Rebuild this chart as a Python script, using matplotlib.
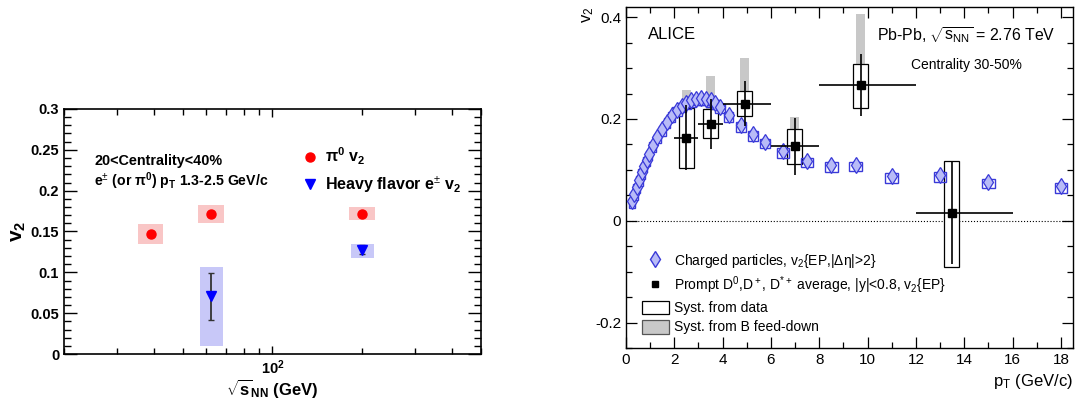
import numpy as np
import matplotlib
matplotlib.use('Agg')
import matplotlib.pyplot as plt
from matplotlib.patches import Rectangle, Patch
from matplotlib.lines import Line2D
from matplotlib.ticker import LogLocator, FuncFormatter, MultipleLocator, NullFormatter

plt.rcParams['font.family'] = ['Liberation Sans', 'DejaVu Sans']
plt.rcParams['mathtext.fontset'] = 'custom'
plt.rcParams['mathtext.rm'] = 'Liberation Sans'
plt.rcParams['mathtext.it'] = 'Liberation Sans:italic'
plt.rcParams['mathtext.bf'] = 'Liberation Sans:bold'

# ---- left panel: v2 vs sqrt(sNN) ----
pi0_energy = [39.0, 62.4, 200.0]
pi0_v2 = [0.147, 0.171, 0.171]
pi0_sys_lo = [0.135, 0.160, 0.1635]
pi0_sys_hi = [0.159, 0.1826, 0.180]

hf_energy = [62.4, 200.0]
hf_v2 = [0.0705, 0.1276]
hf_stat = [0.0285, 0.0055]
hf_sys_lo = [0.0102, 0.118]
hf_sys_hi = [0.107, 0.135]

# ---- right panel: v2 vs pT ----
ch_pt = [0.25, 0.35, 0.45, 0.55, 0.65, 0.75, 0.85, 0.95, 1.1, 1.3, 1.5, 1.7, 1.9,
         2.1, 2.3, 2.5, 2.7, 2.9, 3.1, 3.3, 3.5, 3.7, 3.9, 4.25, 4.75, 5.25, 5.75,
         6.5, 7.5, 8.5, 9.5, 11.0, 13.0, 15.0, 18.0]
ch_v2 = [0.039, 0.053, 0.067, 0.081, 0.095, 0.108, 0.120, 0.132, 0.148, 0.165, 0.180,
         0.195, 0.207, 0.218, 0.226, 0.232, 0.237, 0.240, 0.241, 0.240, 0.237, 0.232,
         0.224, 0.207, 0.188, 0.170, 0.155, 0.137, 0.118, 0.109, 0.110, 0.0875, 0.089,
         0.0765, 0.068]
ch_sys_up = 0.006
ch_sys_dn = 0.013

d_pt = [2.5, 3.5, 4.92, 6.99, 9.72, 13.49]
d_pt_lo = [2.0, 3.0, 4.0, 6.0, 8.0, 12.0]
d_pt_hi = [3.0, 4.0, 6.0, 8.0, 12.0, 16.0]
d_v2 = [0.163, 0.190, 0.230, 0.146, 0.266, 0.016]
d_stat = [0.064, 0.049, 0.044, 0.056, 0.061, 0.100]
d_sys_lo = [0.103, 0.162, 0.205, 0.1115, 0.222, -0.090]
d_sys_hi = [0.221, 0.219, 0.254, 0.180, 0.3075, 0.118]
d_bfd_hi = [0.257, 0.2846, 0.319, 0.203, 0.407, 0.028]

fig = plt.figure(figsize=(10.8, 4.0), dpi=100)
ax1 = fig.add_axes([0.0593, 0.115, 0.386, 0.6125])
ax2 = fig.add_axes([0.5796, 0.13, 0.4139, 0.8525])

# left
for e, lo, hi in zip(pi0_energy, pi0_sys_lo, pi0_sys_hi):
    ax1.add_patch(Rectangle((e / 1.105, lo), e * 1.105 - e / 1.105, hi - lo,
                            facecolor='#f9c6c6', edgecolor='none', zorder=1))
for e, lo, hi in zip(hf_energy, hf_sys_lo, hf_sys_hi):
    ax1.add_patch(Rectangle((e / 1.095, lo), e * 1.095 - e / 1.095, hi - lo,
                            facecolor='#c8c8f8', edgecolor='none', zorder=1))
ax1.errorbar(hf_energy, hf_v2, yerr=hf_stat, fmt='none', ecolor='#333333',
             elinewidth=1.3, capsize=2, capthick=1.0, zorder=2)
ax1.plot(pi0_energy, pi0_v2, 'o', color='red', ms=6.5, zorder=3, label=r'$\mathbf{\pi^0\ v_2}$')
ax1.plot(hf_energy, hf_v2, 'v', color='blue', ms=6.5, zorder=3,
         label=r'Heavy flavor e$^{\pm}$ v$_{\mathbf{2}}$')

ax1.set_xscale('log')
ax1.set_xlim(20, 500)
ax1.set_ylim(0, 0.3)
ax1.xaxis.set_major_locator(LogLocator(base=10, numticks=5))
ax1.xaxis.set_minor_locator(LogLocator(base=10, subs=np.arange(2, 10), numticks=20))
ax1.xaxis.set_major_formatter(FuncFormatter(lambda v, p: r'$\mathbf{10^{2}}$' if abs(v - 100) < 1 else ''))
ax1.xaxis.set_minor_formatter(NullFormatter())
ax1.yaxis.set_major_locator(MultipleLocator(0.05))
ax1.yaxis.set_minor_locator(MultipleLocator(0.01))
ax1.yaxis.set_major_formatter(FuncFormatter(lambda v, p: f'{v:g}'))
ax1.tick_params(which='both', direction='in', top=True, right=True, width=1.0)
ax1.tick_params(axis='y', which='major', length=9.5, labelsize=10.5)
ax1.tick_params(axis='y', which='minor', length=5)
ax1.tick_params(axis='x', which='major', length=6, labelsize=10.5, pad=3)
ax1.tick_params(axis='x', which='minor', length=4)
for lab in ax1.get_yticklabels():
    lab.set_fontweight('bold')
for s in ax1.spines.values():
    s.set_linewidth(1.2)
ax1.set_ylabel(r'$\mathbf{v_2}$', fontsize=15, labelpad=2)
ax1.set_xlabel(r'$\mathbf{\sqrt{s}_{NN}}$ (GeV)', fontsize=12, fontweight='bold', labelpad=0)
ax1.text(0.072, 0.788, '20<Centrality<40%', transform=ax1.transAxes, fontsize=10.4,
         fontweight='bold', va='center')
ax1.text(0.072, 0.706, r'e$^{\pm}$ (or $\mathbf{\pi^0}$) p$_{\mathbf{T}}$ 1.3-2.5 GeV/c',
         transform=ax1.transAxes, fontsize=10.2, fontweight='bold', va='center')
leg1 = ax1.legend(loc='upper left', bbox_to_anchor=(0.575, 0.85), frameon=False,
                  handlelength=0.8, handletextpad=0.5, labelspacing=0.45,
                  borderpad=0, borderaxespad=0, prop={'weight': 'bold', 'size': 11.5})

# right
for x, hi, v in zip(d_pt, d_bfd_hi, d_v2):
    ax2.add_patch(Rectangle((x - 0.19, v), 0.38, hi - v, facecolor='#c8c8c8',
                            edgecolor='none', zorder=1))
for x, lo, hi in zip(d_pt, d_sys_lo, d_sys_hi):
    ax2.add_patch(Rectangle((x - 0.31, lo), 0.62, hi - lo, facecolor='white',
                            edgecolor='black', lw=0.9, zorder=2))
for x, v in zip(ch_pt, ch_v2):
    hw = 0.14 if x < 2 else (0.2 if x < 6 else 0.26)
    ax2.add_patch(Rectangle((x - hw, v - ch_sys_dn), 2 * hw, ch_sys_up + ch_sys_dn,
                            facecolor='none', edgecolor='#3a3ad8', lw=1.0, zorder=3))
ax2.plot(ch_pt, ch_v2, 'd', ms=8.5, markerfacecolor='#b8bbf7', markeredgecolor='#3a3ad8',
         markeredgewidth=0.9, linestyle='none', zorder=4)
d_xerr = [np.array(d_pt) - np.array(d_pt_lo), np.array(d_pt_hi) - np.array(d_pt)]
ax2.errorbar(d_pt, d_v2, xerr=d_xerr, yerr=d_stat, fmt='s', color='black', ms=5.5,
             elinewidth=1.2, capsize=0, zorder=5)
ax2.axhline(0, color='black', ls=':', lw=0.8, zorder=0)

ax2.set_xlim(0, 18.5)
ax2.set_ylim(-0.25, 0.42)
ax2.xaxis.set_major_locator(MultipleLocator(2))
ax2.xaxis.set_minor_locator(MultipleLocator(1))
ax2.yaxis.set_major_locator(MultipleLocator(0.2))
ax2.yaxis.set_minor_locator(MultipleLocator(0.05))
ax2.yaxis.set_major_formatter(FuncFormatter(lambda v, p: f'{v:g}'))
ax2.tick_params(which='both', direction='in', top=True, right=True, labelsize=11, width=0.9)
ax2.tick_params(which='major', length=8)
ax2.tick_params(which='minor', length=4)
for s in ax2.spines.values():
    s.set_linewidth(1.0)
ax2.set_ylabel('v$_2$', fontsize=12, loc='top', labelpad=-1)
ax2.set_xlabel('p$_\\mathrm{T}$ (GeV/c)', fontsize=12, loc='right', labelpad=4)
ax2.text(0.05, 0.918, 'ALICE', transform=ax2.transAxes, fontsize=12, va='center')
ax2.text(0.96, 0.918, r'Pb-Pb, $\sqrt{\mathrm{s}_{\mathrm{NN}}}$ = 2.76 TeV',
         transform=ax2.transAxes, fontsize=11.4, va='center', ha='right')
ax2.text(0.885, 0.83, 'Centrality 30-50%', transform=ax2.transAxes, fontsize=10,
         va='center', ha='right')

handles = [
    Line2D([], [], marker='d', ms=8.5, markerfacecolor='#b8bbf7', markeredgecolor='#3a3ad8',
           linestyle='none'),
    Line2D([], [], marker='s', ms=5, color='black', linestyle='none'),
    Patch(facecolor='white', edgecolor='black', lw=0.9),
    Patch(facecolor='#c8c8c8', edgecolor='#555555', lw=0.9),
]
labels = [
    'Charged particles, v$_2${EP,|Δη|>2}',
    'Prompt D$^0$,D$^+$, D$^{*+}$ average, |y|<0.8, v$_2${EP}',
    'Syst. from data',
    'Syst. from B feed-down',
]
ax2.legend(handles, labels, loc='lower left', bbox_to_anchor=(0.035, 0.04), frameon=False,
           fontsize=10, handlelength=1.95, handleheight=1.15, handletextpad=0.4,
           labelspacing=0.33, borderpad=0, borderaxespad=0)

fig.savefig('out.png', dpi=100)
